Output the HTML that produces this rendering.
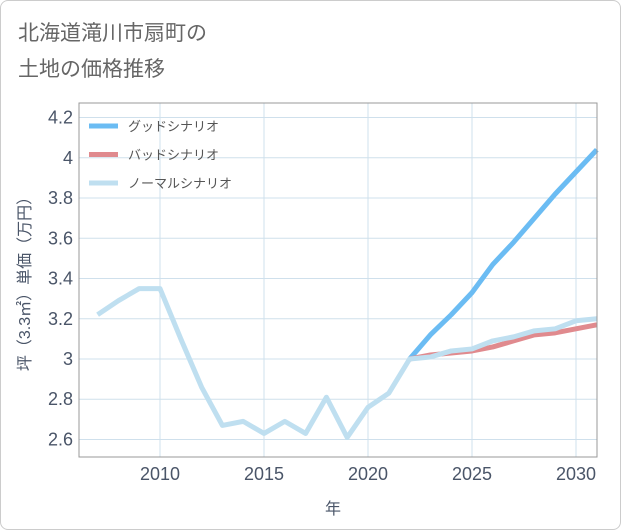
<!DOCTYPE html>
<html><head><meta charset="utf-8"><style>
body{margin:0;background:#fff;font-family:"Liberation Sans","Noto Sans CJK JP",sans-serif}
#card{position:absolute;left:0;top:0;width:619px;height:528px;border:1px solid #ccc;border-radius:8px;background:#fff}
</style></head><body>
<div id="card"></div>
<svg id="c" width="621" height="530" style="position:absolute;left:0;top:0">
<text x="18" y="40" font-size="21" fill="#666">北海道滝川市扇町の</text>
<text x="18" y="76" font-size="21" fill="#666">土地の価格推移</text>
<g id="grid"></g><g id="series"></g>
<rect x="79" y="103" width="518" height="354" fill="none" stroke="#999"/>
<text x="333" y="514" font-size="16" fill="#4a5568" text-anchor="middle">年</text>
<text transform="translate(30,280) rotate(-90)" font-size="16" fill="#4a5568" text-anchor="middle">坪（3.3㎡）単価（万円）</text>
<g id="legend"></g>
</svg>
<script>
const years=[2007,2008,2009,2010,2011,2012,2013,2014,2015,2016,2017,2018,2019,2020,2021,2022,2023,2024,2025,2026,2027,2028,2029,2030,2031];
const normal=[3.22,3.29,3.35,3.35,3.1,2.86,2.67,2.69,2.63,2.69,2.63,2.81,2.61,2.76,2.83,3.0,3.01,3.04,3.05,3.09,3.11,3.14,3.15,3.19,3.20];
const futureYears=[2022,2023,2024,2025,2026,2027,2028,2029,2030,2031];
const good=[3.0,3.12,3.22,3.33,3.47,3.58,3.70,3.82,3.93,4.04];
const bad=[3.0,3.02,3.03,3.04,3.06,3.09,3.12,3.13,3.15,3.17];
const xTicks=[2010,2015,2020,2025,2030];
const yTicks=[2.6,2.8,3,3.2,3.4,3.6,3.8,4,4.2];
const NS="http://www.w3.org/2000/svg";
const X=y=>160+(y-2010)*20.8;
const Y=v=>359-(v-3)*201.2;
function mk(t,a,p){const e=document.createElementNS(NS,t);for(const k in a)e.setAttribute(k,a[k]);p.appendChild(e);return e;}
const grid=document.getElementById('grid');
xTicks.forEach(t=>{
const l=mk('line',{x1:X(t),x2:X(t),y1:103,y2:457,stroke:'#cfe0ec'},grid);


const tx=mk('text',{x:X(t),y:480,'font-size':18,fill:'#4a5568','text-anchor':'middle'},grid);tx.textContent=t;


});
yTicks.forEach(t=>{
const l=mk('line',{x1:79,x2:597,y1:Y(t),y2:Y(t),stroke:'#cfe0ec'},grid);


const tx=mk('text',{x:73,y:Y(t)+6,'font-size':18,fill:'#4a5568','text-anchor':'end'},grid);tx.textContent=t;


});
const sg=document.getElementById('series');
function line(xs,vs,c,w,name){const p=mk('polyline',{points:xs.map((y,i)=>X(y)+','+Y(vs[i])).join(' '),fill:'none',stroke:c,'stroke-width':w,'stroke-linejoin':'round'},sg);

}
line(futureYears,good,'#6bbcf3',5,'good-scenario-line');
line(futureYears,bad,'#e08a8e',5,'bad-scenario-line');
line(years,normal,'#bfdff0',5,'normal-scenario-line');
const lg=document.getElementById('legend');
[['グッドシナリオ','#6bbcf3'],['バッドシナリオ','#e08a8e'],['ノーマルシナリオ','#bfdff0']].forEach((d,i)=>{
const y=126+i*28.5;
const l=mk('line',{x1:89,x2:118,y1:y,y2:y,stroke:d[1],'stroke-width':5},lg);


const t=mk('text',{x:128,y:y+5,'font-size':13,fill:'#555'},lg);t.textContent=d[0];


});
</script>
</body></html>
